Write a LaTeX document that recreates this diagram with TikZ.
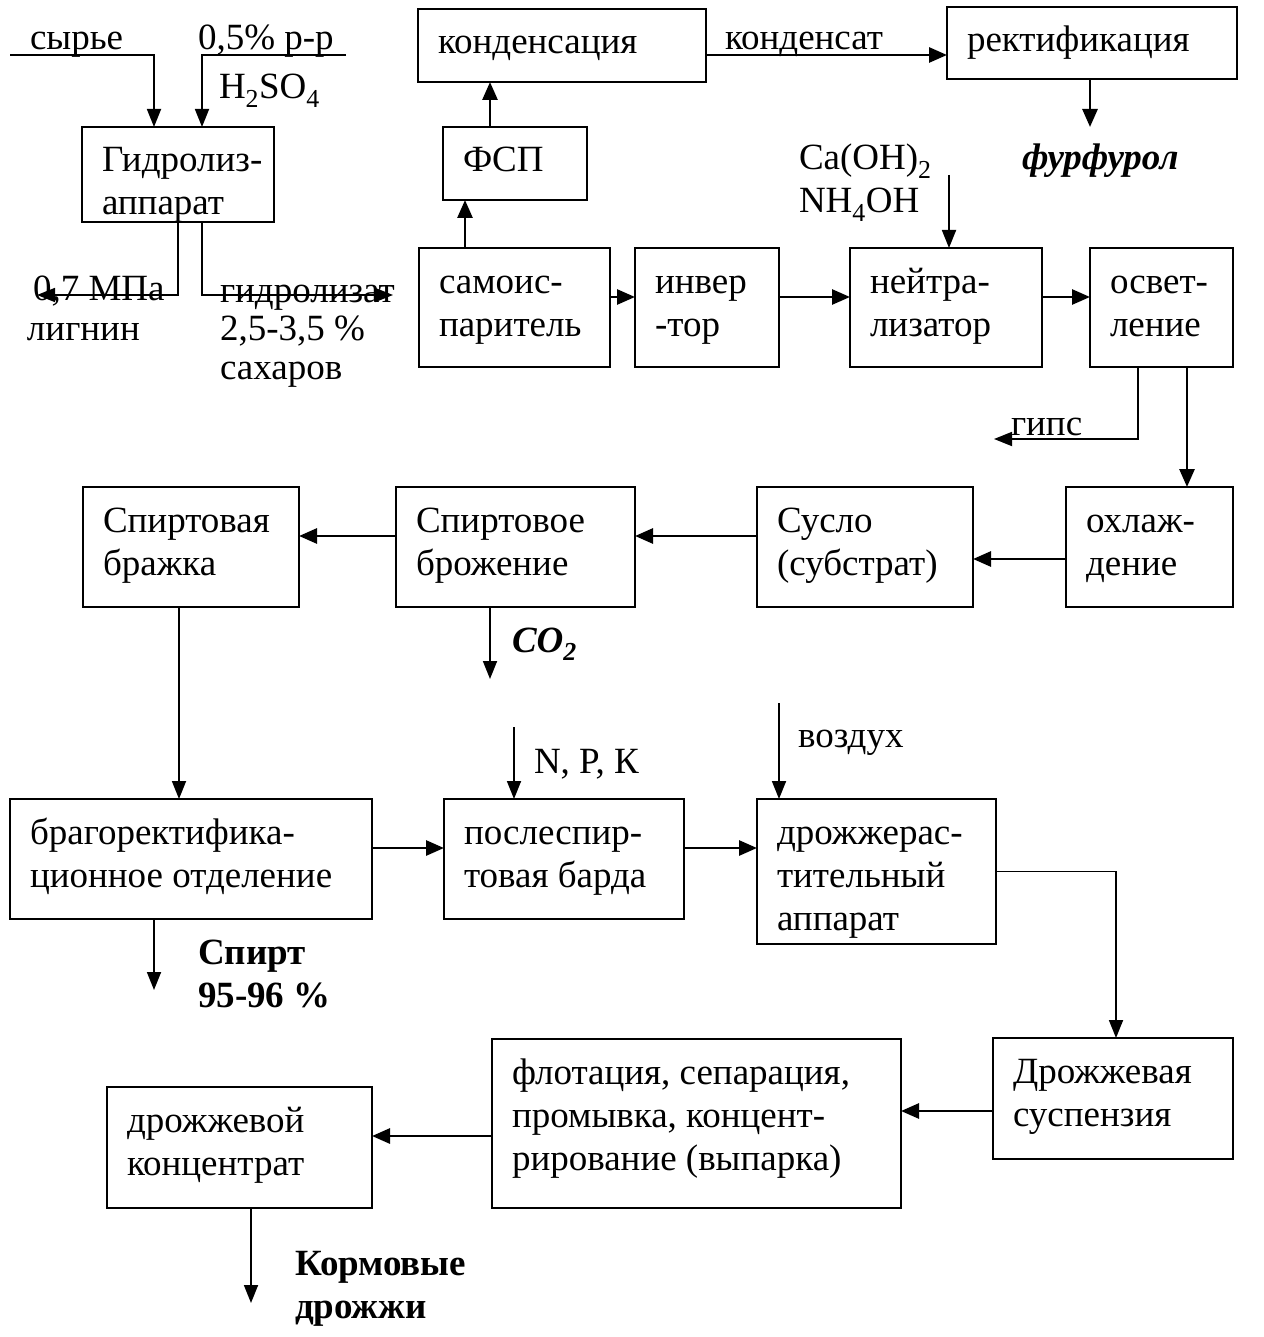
\documentclass[tikz,border=0pt]{standalone}
\usepackage{fontspec}
\setmainfont{Liberation Serif}
\usetikzlibrary{arrows.meta}
\begin{document}
\begin{tikzpicture}[x=1pt,y=-1pt,
  box/.style={draw, line width=2pt, inner sep=0pt, outer sep=0pt},
  txt/.style={inner sep=0pt, outer sep=0pt, align=left, font=\fontsize{37}{43}\selectfont},
  ln/.style={line width=1.8pt, -{Triangle[length=18pt,width=14pt]}},
  lk/.style={line width=2.8pt, -{Triangle[length=18pt,width=15pt]}},
  bl/.style={txt, font=\fontsize{37}{43}\selectfont\bfseries},
  bil/.style={txt, font=\fontsize{37}{43}\selectfont\bfseries\itshape}]
\useasboundingbox (0,0) rectangle (1263,1337);
\newcommand\mkbox[6]{%
  \node[box, minimum width=#4pt, minimum height=#5pt] (#1) at (#2,#3) {};
  \node[txt, anchor=north west] (#1t) at ([xshift=20pt,yshift=-14.9pt]#1.north west) {\strut #6};}
% boxes
\mkbox{hyd}{178}{174.5}{192}{95}{Гидролиз-\\аппарат}
\mkbox{kond}{562}{45.5}{288}{73}{конденсация}
\mkbox{rect}{1092}{43}{290}{72}{ректификация}
\mkbox{fsp}{515}{163.5}{144}{73}{ФСП}
\mkbox{samo}{514.5}{307.5}{191}{119}{самоис-\\паритель}
\mkbox{inv}{707}{307.5}{144}{119}{инвер\\-тор}
\mkbox{neut}{946}{307.5}{192}{119}{нейтра-\\лизатор}
\mkbox{osv}{1161.5}{307.5}{143}{119}{освет-\\ление}
\mkbox{ohl}{1149.5}{547}{167}{120}{охлаж-\\дение}
\mkbox{suslo}{865}{547}{216}{120}{Сусло\\(субстрат)}
\mkbox{spbr}{515.5}{547}{239}{120}{Спиртовое\\брожение}
\mkbox{spbraz}{191}{547}{216}{120}{Спиртовая\\бражка}
\mkbox{brag}{191}{859}{362}{120}{брагоректифика-\\ционное отделение}
\mkbox{posl}{564}{859}{240}{120}{послеспир-\\товая барда}
\mkbox{drozh}{876.5}{871.5}{239}{145}{дрожжерас-\\тительный\\аппарат}
\mkbox{susp}{1113}{1098.5}{240}{121}{Дрожжевая\\суспензия}
\mkbox{flot}{696.5}{1123.5}{409}{169}{флотация, сепарация,\\промывка, концент-\\рирование (выпарка)}
\mkbox{konc}{239.5}{1147.5}{265}{121}{дрожжевой\\концентрат}
% free ends
\coordinate (syrA) at (10,55);
\coordinate (acA) at (346,55);
\coordinate (ligA) at (37,295);
\coordinate (gidA) at (393,295);
\coordinate (furA) at (1090,127);
\coordinate (caA) at (949,175);
\coordinate (gipsA) at (994,439);
\coordinate (co2A) at (490,679);
\coordinate (npkA) at (514,727);
\coordinate (airA) at (779,703);
\coordinate (spA) at (154,990);
\coordinate (kormA) at (251,1303);
% labels
\node[txt, anchor=base west] (l1) at (30,50) {сырье};
\node[txt, anchor=base west] (l2) at (198,50) {0,5\% р-р};
\node[txt, anchor=base west] (l3) at (219,99) {H\textsubscript{2}SO\textsubscript{4}};
\node[txt, anchor=base west] (l4) at (33,301) {0,7 МПа};
\node[txt, anchor=base west] (l5) at (27,340) {лигнин};
\node[txt, anchor=base west] (l6) at (220,302) {гидролизат};
\node[txt, anchor=base west] (l7) at (220,340) {2,5-3,5 \%};
\node[txt, anchor=base west] (l8) at (220,379) {сахаров};
\node[txt, anchor=base west] (l9) at (725,50) {конденсат};
\node[bil, anchor=base west] (l10) at (1022,170) {фурфурол};
\node[txt, anchor=base west] (l11) at (799,213) {Ca(OH)\textsubscript{2}\\NH\textsubscript{4}OH};
\node[txt, anchor=base west] (l12) at (1011,435) {гипс};
\node[bil, anchor=base west] (l13) at (512,652) {CO\textsubscript{2}};
\node[txt, anchor=base west] (l14) at (534,773) {N, P, К};
\node[txt, anchor=base west] (l15) at (798,747) {воздух};
\node[bl, anchor=base west] (l16) at (198,1007) {Спирт\\95-96 \%};
\node[bl, anchor=base west] (l17) at (295,1318) {Кормовые\\дрожжи};
% connectors
\draw[ln] (syrA) -| ([xshift=-24pt]hyd.north);
\draw[ln] (acA) -| ([xshift=24pt]hyd.north);
\draw[ln] (hyd.south) |- (ligA);
\draw[ln] ([xshift=24pt]hyd.south) |- (gidA);
\draw[lk] ([xshift=-49.5pt]samo.north) -- ([xshift=-49.5pt]samo.north |- fsp.south);
\draw[lk] ([xshift=-25pt]fsp.north) -- ([xshift=-25pt]fsp.north |- kond.south);
\draw[lk] ([yshift=-9.5pt]kond.east) -- ([yshift=-9.5pt]kond.east -| rect.west);
\draw[lk] (rect.south -| furA) -- (furA);
\draw[ln] (caA) -- (caA |- neut.north);
\draw[lk] ([yshift=10.5pt]samo.east) -- ([yshift=10.5pt]samo.east -| inv.west);
\draw[lk] ([yshift=10.5pt]inv.east) -- ([yshift=10.5pt]inv.east -| neut.west);
\draw[lk] ([yshift=10.5pt]neut.east) -- ([yshift=10.5pt]neut.east -| osv.west);
\draw[ln] ([xshift=-23.5pt]osv.south) |- (gipsA);
\draw[lk] ([xshift=25.5pt]osv.south) -- ([xshift=25.5pt]osv.south |- ohl.north);
\draw[lk] ([yshift=-12pt]ohl.west) -- ([yshift=-12pt]ohl.west -| suslo.east);
\draw[lk] ([yshift=11pt]suslo.west) -- ([yshift=11pt]suslo.west -| spbr.east);
\draw[lk] ([yshift=11pt]spbr.west) -- ([yshift=11pt]spbr.west -| spbraz.east);
\draw[ln] ([xshift=-25.5pt]spbr.south) -- (co2A);
\draw[ln] ([xshift=-12pt]spbraz.south) -- ([xshift=-12pt]spbraz.south |- brag.north);
\draw[ln] (npkA) -- (npkA |- posl.north);
\draw[ln] (airA) -- (airA |- drozh.north);
\draw[lk] ([yshift=11pt]brag.east) -- ([yshift=11pt]brag.east -| posl.west);
\draw[lk] ([yshift=11pt]posl.east) -- ([yshift=11pt]posl.east -| drozh.west);
\draw[ln] ([xshift=-37pt]brag.south) -- (spA);
\draw[ln] (drozh.east) -| ([xshift=3pt]susp.north);
\draw[lk] ([yshift=-12.5pt]susp.west) -- ([yshift=-12.5pt]susp.west -| flot.east);
\draw[lk] ([yshift=-12.5pt]flot.west) -- ([yshift=-12.5pt]flot.west -| konc.east);
\draw[ln] ([xshift=11.5pt]konc.south) -- (kormA);
\end{tikzpicture}
\end{document}
